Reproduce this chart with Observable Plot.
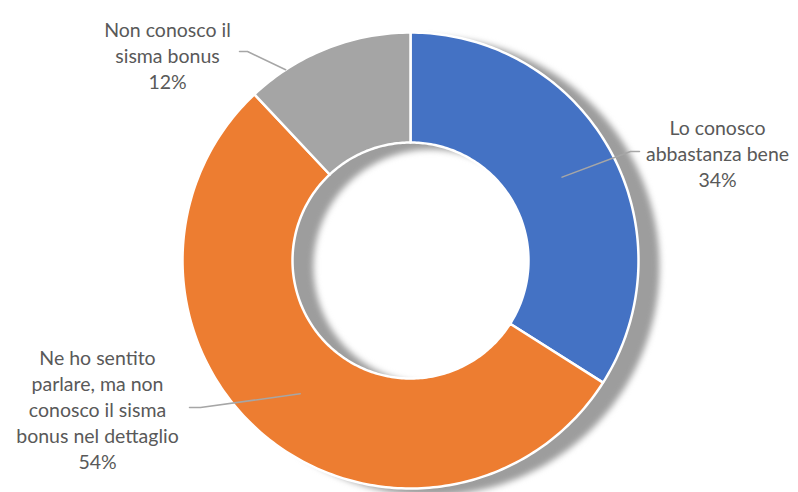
<!DOCTYPE html>
<html>
<head>
<meta charset="utf-8">
<script src="https://cdn.jsdelivr.net/npm/d3@7"></script>
<script src="https://cdn.jsdelivr.net/npm/@observablehq/plot@0.6"></script>
<style>
  html, body { margin: 0; padding: 0; background: #fff; }
  g[aria-description="shadow"] { filter: blur(3px); }
</style>
</head>
<body>
<div id="chart"></div>
<script>
// ---- data ----
const categories = [
  "Lo conosco abbastanza bene",
  "Ne ho sentito parlare, ma non conosco il sisma bonus nel dettaglio",
  "Non conosco il sisma bonus"
];
const values = [34, 54, 12];
const labelLines = [
  ["Lo conosco", "abbastanza bene"],
  ["Ne ho sentito", "parlare, ma non", "conosco il sisma", "bonus nel dettaglio"],
  ["Non conosco il", "sisma bonus"]
];
const colors = ["#4472C4", "#ED7D31", "#A5A5A5"];

// ---- layout (pixels) ----
const W = 798, H = 492;
const cx = 410, cy = 260, R = 228, R0 = 118;
// label block centre, leader start, leader elbow, anchor (angle override deg, radius fraction)
const labelLayout = [
  {lx: 717, ly: 152, sx: 639, sy: 151, ex: 630, anchorR: 173 / R, anchorAngle: null},
  {lx: 97,  ly: 408, sx: 189, sy: 407, ex: 200, anchorR: 173 / R, anchorAngle: null},
  {lx: 167, ly: 54,  sx: 239, sy: 51,  ex: 247, anchorR: 1.0,     anchorAngle: 326.8}
];

// ---- derived geometry in unit coordinates (outer radius = 1) ----
const ux = px => (px - cx) / R;
const uy = py => (cy - py) / R;
const inner = R0 / R;
const total = d3.sum(values);
let acc = 0;
const slices = values.map((v, i) => {
  const a0 = acc / total * 2 * Math.PI;
  acc += v;
  const a1 = acc / total * 2 * Math.PI;
  return {cat: categories[i], value: v, a0, a1, mid: (a0 + a1) / 2};
});
const polyPoints = [];
for (const s of slices) {
  const n = Math.max(8, Math.ceil((s.a1 - s.a0) / (2 * Math.PI) * 360));
  const pts = [];
  for (let k = 0; k <= n; k++) {
    const t = s.a0 + (s.a1 - s.a0) * k / n;
    pts.push({cat: s.cat, x: Math.sin(t), y: Math.cos(t)});
  }
  for (let k = n; k >= 0; k--) {
    const t = s.a0 + (s.a1 - s.a0) * k / n;
    pts.push({cat: s.cat, x: inner * Math.sin(t), y: inner * Math.cos(t)});
  }
  pts.push({...pts[0]});
  polyPoints.push(...pts);
}

const labels = slices.map((s, i) => ({
  cat: s.cat,
  text: [...labelLines[i], `${values[i]}%`].join("\n"),
  x: ux(labelLayout[i].lx),
  y: uy(labelLayout[i].ly)
}));

const leaders = [];
slices.forEach((s, i) => {
  const L = labelLayout[i];
  const ang = L.anchorAngle == null ? s.mid : L.anchorAngle * Math.PI / 180;
  leaders.push({cat: s.cat, x: ux(L.sx), y: uy(L.sy)});
  leaders.push({cat: s.cat, x: ux(L.ex), y: uy(L.sy)});
  leaders.push({cat: s.cat, x: L.anchorR * Math.sin(ang), y: L.anchorR * Math.cos(ang)});
});

const chart = Plot.plot({
  width: W,
  height: H,
  margin: 0,
  x: {domain: [ux(0), ux(W)], range: [0, W], axis: null},
  y: {domain: [uy(H), uy(0)], range: [H, 0], axis: null},
  color: {domain: categories, range: colors},
  style: {background: "#fff", fontFamily: "Lato, 'Open Sans', sans-serif", fontSize: "19.5px", color: "#595959", overflow: "visible"},
  marks: [
    Plot.line(polyPoints, {x: "x", y: "y", z: "cat", fill: "#9d9d9d", stroke: "#9d9d9d", strokeWidth: 2, curve: "linear", dx: 20, dy: 6, ariaDescription: "shadow"}),
    Plot.line(polyPoints, {x: "x", y: "y", z: "cat", fill: "cat", stroke: "white", strokeWidth: 2.5, strokeLinejoin: "round", curve: "linear"}),
    Plot.line(leaders, {x: "x", y: "y", z: "cat", stroke: "#a6a6a6", strokeWidth: 1.5, curve: "linear"}),
    Plot.text(labels, {x: "x", y: "y", text: "text", fill: "#595959", fontSize: 19.5, lineHeight: 1.34, lineAnchor: "middle", textAnchor: "middle"})
  ]
});
document.getElementById("chart").appendChild(chart);
</script>
</body>
</html>
